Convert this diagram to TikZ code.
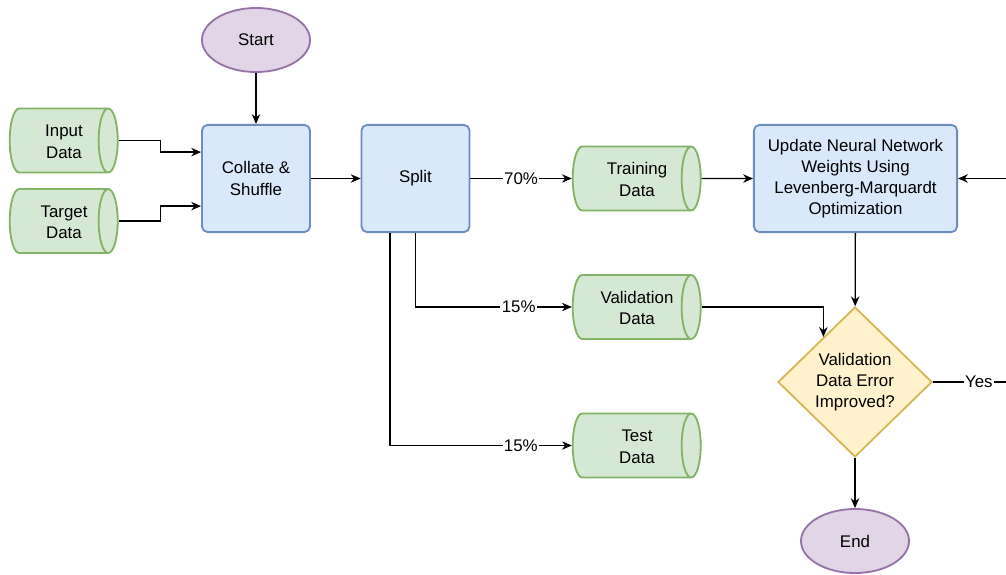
\documentclass[tikz,border=0pt]{standalone}
\usepackage{fontspec}
\setmainfont{Liberation Sans}
\usetikzlibrary{shapes.geometric,arrows.meta}
\definecolor{bleufond}{HTML}{DAE8FC}
\definecolor{bleutrait}{HTML}{6C8EBF}
\definecolor{vertfond}{HTML}{D5E8D4}
\definecolor{verttrait}{HTML}{82B366}
\definecolor{jaunefond}{HTML}{FFF2CC}
\definecolor{jaunetrait}{HTML}{D6B656}
\definecolor{violetfond}{HTML}{E1D5E7}
\definecolor{violettrait}{HTML}{9673A6}
% texte sur deux lignes, recentre sur le cylindre
\newcommand{\deuxlignes}[2]{\hspace*{0.4cm}\raisebox{-0.07cm}[\height][\depth]{\begin{tabular}{@{}c@{}}#1\\#2\end{tabular}}}

\begin{document}
\begin{tikzpicture}[x=0.025cm,y=-0.025cm,font=\fontsize{12}{15}\selectfont]
		\tikzstyle{boite}=[rectangle, rounded corners=4pt, minimum width=2.7cm, minimum height=2.68cm, draw=bleutrait, fill=bleufond, line width=1.3pt, align=center]
		\tikzstyle{donnees}=[cylinder, shape aspect=0.37, cylinder uses custom fill, cylinder body fill=vertfond, cylinder end fill=vertfond, draw=verttrait, line width=1.3pt, minimum width=1.6cm, minimum height=2.7cm]
		\tikzstyle{decision}=[diamond, minimum width=3.85cm, minimum height=3.75cm, inner sep=0pt, draw=jaunetrait, fill=jaunefond, line width=1.3pt]
		\tikzstyle{extremite}=[ellipse, minimum width=2.7cm, minimum height=1.6cm, draw=violettrait, fill=violetfond, line width=1.3pt]
		\tikzstyle{fleche}=[-{Stealth[length=7pt,width=6pt]}, line width=0.9pt]
		\tikzstyle{pourcent}=[fill=white, inner sep=1pt]
		\path[use as bounding box, clip] (0,0) rectangle (1006,574);
		\node[extremite] (debut) at (256,40) {Start};
		\node[donnees] (entree) at (56,140.5) {\deuxlignes{Input}{Data}}; % gauche
		\node[donnees] (cible) at (56,221) {\deuxlignes{Target}{Data}};
		\node[boite] (melange) at (256,178.5) {Collate \&\\Shuffle};
		\node[boite] (partage) at (415.5,178.5) {Split};
		\node[donnees, minimum height=3.2cm] (entrainement) at (629,178.5) {\deuxlignes{Training}{Data}};
		\node[donnees, minimum height=3.2cm] (validation) at (629,307) {\deuxlignes{Validation}{Data}};
		\node[donnees, minimum height=3.2cm] (test) at (629,445.5) {\deuxlignes{Test}{Data}};
		\node[boite, minimum width=5.08cm] (maj) at (855.5,178.5) {Update Neural Network\\Weights Using\\Levenberg-Marquardt\\Optimization};
		\node[decision] (critere) at (855,382) {};
		\node[align=center] (question) at (critere) {Validation\\Data Error\\Improved?};
		\node[extremite] (fin) at (855,541) {End}; % bas
		\draw[fleche] (debut) -- (melange);
		\draw[fleche] (entree.east) -- ++(42,0) |- ([yshift=0.66cm]melange.west);
		\draw[fleche] (cible.east) -- ++(42,0) |- ([yshift=-0.69cm]melange.west);
		\draw[fleche] (melange) -- (partage);
		\draw[fleche] (partage) -- node[pourcent]{70\%} (entrainement.west);
		\draw[fleche] (partage.south) |- node[pourcent, pos=0.83]{15\%} (validation.west);
		\draw[fleche] ([xshift=-0.64cm]partage.south) |- node[pourcent, pos=0.86]{15\%} (test.west);
		\draw[fleche] (entrainement.east) -- (maj);
		\draw[fleche] (maj) -- (critere);
		\draw[fleche] (validation.east) -| (critere.125);
		\draw[fleche] (critere) -- (fin);
		\draw[fleche] (critere.east) -- node[pourcent, pos=0.51]{Yes} ++(90,0) |- (maj.east); % retour
	\end{tikzpicture}
\end{document}
